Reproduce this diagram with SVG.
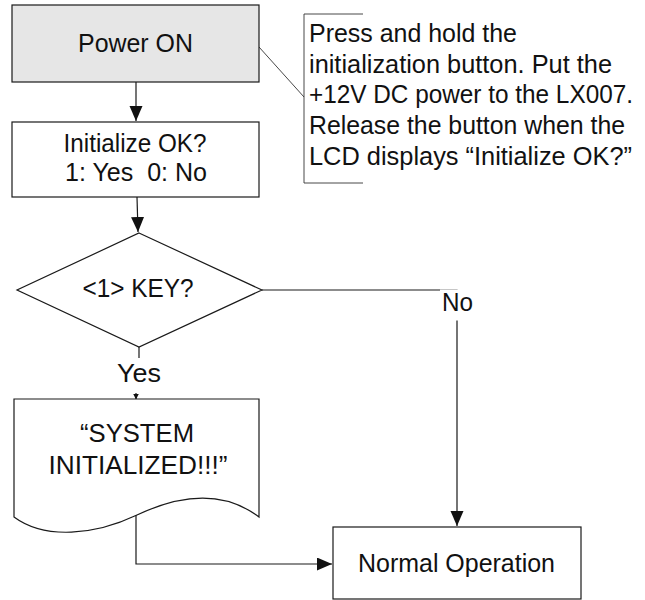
<svg xmlns="http://www.w3.org/2000/svg" width="645" height="600" viewBox="0 0 645 600">
<style>
  .box{fill:#fff;stroke:#1a1a1a;stroke-width:1.2}
  .gray{fill:#e6e6e6}
  .ln{fill:none;stroke:#1a1a1a;stroke-width:1.2}
  .thin{fill:none;stroke:#333;stroke-width:0.9}
  text{font-family:"Liberation Sans",Arial,sans-serif;font-size:26px;fill:#111}
  .note{font-size:25px}
  .c{text-anchor:middle}
</style>
<defs>
  <marker id="arr" markerUnits="userSpaceOnUse" markerWidth="16" markerHeight="14" refX="15" refY="6.5" orient="auto">
    <path d="M0,0 L15,6.5 L0,13 Z" fill="#111"/>
  </marker>
  <marker id="arrS" markerUnits="userSpaceOnUse" markerWidth="8" markerHeight="8" refX="6" refY="3" orient="auto">
    <path d="M0,0 L6,3 L0,6 Z" fill="#111"/>
  </marker>
</defs>

<g id="connectors">
  <line class="ln" x1="136" y1="82" x2="136" y2="121" marker-end="url(#arr)"/>
  <line class="ln" x1="137" y1="197" x2="138" y2="232" marker-end="url(#arr)"/>
  <polyline class="ln" points="262,290 457,290 457,526" marker-end="url(#arr)"/>
  <rect x="440" y="289.5" width="36" height="31" fill="#fff"/>
  <text class="c" x="457.5" y="311" textLength="31" lengthAdjust="spacingAndGlyphs">No</text>
  <line class="ln" x1="139" y1="347" x2="139" y2="358"/>
  <text class="c" x="139" y="382" textLength="44" lengthAdjust="spacingAndGlyphs">Yes</text>
  <line class="ln" x1="136" y1="393" x2="136" y2="399.5" marker-end="url(#arrS)"/>
  <polyline class="ln" points="136,515 136,564 332,564" marker-end="url(#arr)"/>
  <line class="thin" x1="259" y1="47" x2="304" y2="97"/>
</g>

<g id="power-on">
  <rect class="box gray" x="12" y="5" width="247" height="77"/>
  <text class="c" x="135.5" y="52" textLength="115" lengthAdjust="spacingAndGlyphs">Power ON</text>
</g>

<g id="note">
  <path class="thin" d="M363,14 H304 V183 H363"/>
  <text class="note" x="309" y="42" textLength="208" lengthAdjust="spacingAndGlyphs">Press and hold the</text>
  <text class="note" x="309" y="73" textLength="303" lengthAdjust="spacingAndGlyphs">initialization button. Put the</text>
  <text class="note" x="309" y="103" textLength="324" lengthAdjust="spacingAndGlyphs">+12V DC power to the LX007.</text>
  <text class="note" x="309" y="134" textLength="316" lengthAdjust="spacingAndGlyphs">Release the button when the</text>
  <text class="note" x="309" y="165" textLength="323" lengthAdjust="spacingAndGlyphs">LCD displays “Initialize OK?”</text>
</g>

<g id="initialize">
  <rect class="box" x="12" y="122" width="247" height="75"/>
  <text class="c" x="135" y="152" textLength="143" lengthAdjust="spacingAndGlyphs">Initialize OK?</text>
  <text class="c" x="136" y="181" xml:space="preserve" textLength="142" lengthAdjust="spacingAndGlyphs">1: Yes  0: No</text>
</g>

<g id="key-decision">
  <polygon class="box" points="139,233 262,290 139,347 17,290"/>
  <text class="c" x="138" y="297" textLength="111" lengthAdjust="spacingAndGlyphs">&lt;1&gt; KEY?</text>
</g>

<g id="system-initialized">
  <path class="box" d="M14,399 H259 V517 C230,495 190,490 137,515 C95,535 45,540 14,517 Z"/>
  <text class="c" x="137" y="442" textLength="114" lengthAdjust="spacingAndGlyphs">“SYSTEM</text>
  <text class="c" x="138" y="474" textLength="179" lengthAdjust="spacingAndGlyphs">INITIALIZED!!!”</text>
</g>

<g id="normal-operation">
  <rect class="box" x="333" y="527" width="248" height="72"/>
  <text class="c" x="456.5" y="572" textLength="197" lengthAdjust="spacingAndGlyphs">Normal Operation</text>
</g>
</svg>
